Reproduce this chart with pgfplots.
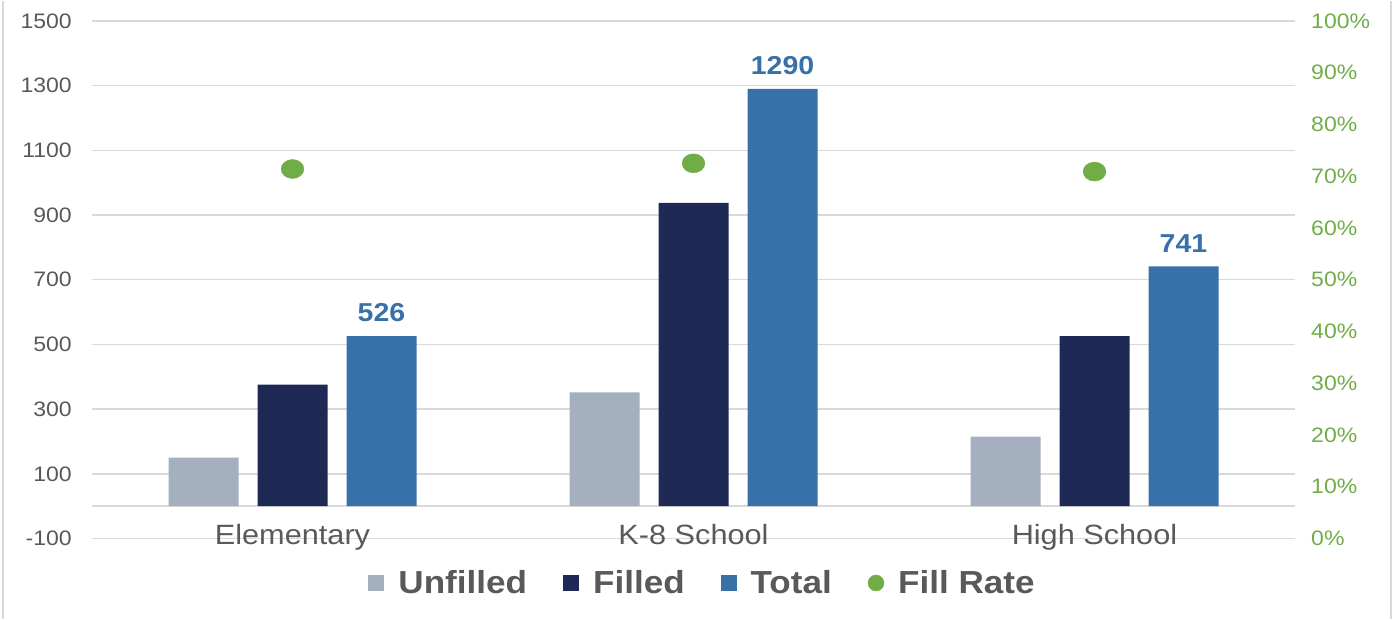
\documentclass[border=0pt]{standalone}
\usepackage{fontspec}
\setmainfont{Liberation Sans}[FakeStretch=1.1]
\usepackage{pgfplots}
\pgfplotsset{compat=1.18}
\definecolor{unf}{HTML}{A4AFBF}
\definecolor{fil}{HTML}{1E2A55}
\definecolor{tot}{HTML}{3870A8}
\definecolor{grn}{HTML}{70AD47}
\definecolor{txt}{HTML}{595959}
\definecolor{gridc}{HTML}{D9D9D9}
\begin{document}
\begin{tikzpicture}[x=1bp,y=1bp]
\path (0,0) rectangle (1392,618);
\draw[gridc, line width=2bp] (3,0) -- (3,618);
\draw[gridc, line width=2bp] (1391,0) -- (1391,618);
\begin{axis}[
  at={(92bp,80.5bp)}, anchor=south west, scale only axis,
  width=1203bp, height=517.5bp,
  xmin=-0.5, xmax=2.5, ymin=-100, ymax=1500,
  ytick={-100,100,...,1500},
  extra y ticks={0}, extra y tick labels={},
  extra y tick style={grid=major},
  ymajorgrids, grid style={gridc, line width=1.5bp},
  xtick={0,1,2}, xticklabels={Elementary, K-8 School, High School},
  axis line style={draw=none}, major tick length=0pt,
  /pgf/number format/assume math mode=true,
  /pgf/number format/1000 sep={},
  tick label style={text=txt},
  yticklabel style={font=\fontsize{21}{24}\selectfont, inner sep=0pt, anchor=east, xshift=-20bp},
  xticklabel style={font=\fontsize{28}{32}\selectfont, inner sep=0pt, anchor=base, yshift=-6.5bp},
  clip=false,
  legend columns=4,
  legend style={at={(0.5067,-0.086)}, anchor=center, draw=none, fill=none,
    font=\fontsize{32}{36}\selectfont\bfseries, text=txt,
    nodes={inner sep=0pt},
    /tikz/every odd column/.append style={column sep=14bp},
    /tikz/every even column/.append style={column sep=36bp}},
]
\addplot[ybar, bar width=70bp, bar shift=-89bp, fill=unf, draw=none,
  legend image code/.code={\fill[unf] (0bp,-8bp) rectangle (16bp,8bp);}]
  coordinates {(0,150) (1,352) (2,215)};
\addlegendentry{Unfilled}
\addplot[ybar, bar width=70bp, bar shift=0bp, fill=fil, draw=none,
  legend image code/.code={\fill[fil] (0bp,-8bp) rectangle (16bp,8bp);}]
  coordinates {(0,376) (1,938) (2,526)};
\addlegendentry{Filled}
\addplot[ybar, bar width=70bp, bar shift=89bp, fill=tot, draw=none,
  nodes near coords,
  nodes near coords style={font=\fontsize{26}{30}\selectfont\bfseries, text=tot, anchor=south, inner sep=0pt, xshift=89bp, yshift=14bp},
  legend image code/.code={\fill[tot] (0bp,-8bp) rectangle (16bp,8bp);}]
  coordinates {(0,526) (1,1290) (2,741)};
\addlegendentry{Total}
\addlegendimage{legend image code/.code={\fill[grn] (8bp,0bp) circle (8bp);}}
\addlegendentry{Fill Rate}
\end{axis}
\begin{axis}[
  at={(92bp,80.5bp)}, anchor=south west, scale only axis,
  width=1203bp, height=517.5bp,
  xmin=-0.5, xmax=2.5, ymin=0, ymax=100,
  xtick=\empty,
  ytick={0,10,...,100},
  yticklabel pos=right,
  axis line style={draw=none}, major tick length=0pt,
  /pgf/number format/assume math mode=true,
  yticklabel={\pgfmathprintnumber{\tick}\%},
  yticklabel style={font=\fontsize{21}{24}\selectfont, text=grn, inner sep=0pt, anchor=west, xshift=16bp},
  clip=false,
]
\addplot[only marks, mark=*, mark size=9.5bp, color=grn, mark options={xscale=1.2, draw=none, fill=grn}]
  coordinates {(0,71.4) (1,72.5) (2,70.9)};
\end{axis}
\end{tikzpicture}
\end{document}
